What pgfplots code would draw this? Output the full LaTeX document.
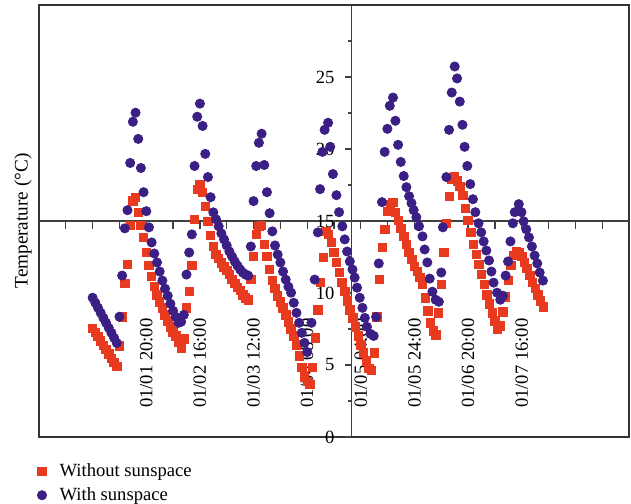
\documentclass[border=0pt]{standalone}
\usepackage{fontspec}
\setmainfont{Liberation Serif}
\usepackage{pgfplots}
\pgfplotsset{compat=1.18}

\definecolor{nosun}{RGB}{231,58,31}
\definecolor{withsun}{RGB}{59,31,132}
\newcommand{\lblfont}{\fontsize{9.3}{11}\selectfont}
\tikzset{axln/.style={black!75, line width=0.6pt}}

\begin{document}
\begin{tikzpicture}
\begin{axis}[
    name=ax,
    scale only axis,
    width=295pt, height=216pt,
    xmin=-20, xmax=200,
    ymin=0, ymax=30,
    xtick=\empty, ytick=\empty,
    clip=false,
    axis line style={black!80, line width=0.6pt},
    legend cell align=left,
    legend image code/.code={\draw[mark repeat=2,mark phase=2,#1] plot coordinates {(0pt,0pt) (3pt,0pt) (6pt,0pt)};},
    legend style={at={(rel axis cs:0,0)}, anchor=north west, xshift=-4pt, yshift=-10pt,
        draw=none, fill=none, font=\lblfont, row sep=2pt, column sep=5.5pt,
        nodes={inner sep=1pt}},
]

% without sunspace
\addplot[only marks, mark=square*, mark size=2.1pt, color=nosun] coordinates {
(0,7.56)(1,7.27)(2,6.97)(3,6.67)(4,6.37)(5,6.07)(6,5.77)(7,5.47)(8,5.18)(9,4.90)
(10,6.32)(11,8.35)(12,10.65)(13,11.98)(14,14.70)(15,16.40)(16,16.65)(17,15.60)(18,14.70)(19,13.86)
(20,12.80)(21,11.90)(22,11.14)(23,10.44)(24,9.88)(25,9.39)(26,8.97)(27,8.48)(28,8.07)(29,7.65)
(30,7.30)(31,7.02)(32,6.60)(33,6.18)(34,6.80)(35,8.97)(36,10.10)(37,11.90)(38,15.10)(39,17.20)
(40,17.56)(41,17.00)(42,16.00)(43,14.98)(44,14.00)(45,13.23)(46,12.67)(47,12.40)(48,12.10)(49,11.80)
(50,11.56)(51,11.28)(52,10.93)(53,10.65)(54,10.37)(55,10.16)(56,9.88)(57,9.67)(58,9.53)(59,10.93)
(60,12.53)(61,14.07)(62,14.63)(63,14.70)(64,13.37)(65,12.53)(66,11.63)(67,10.86)(68,10.30)(69,9.81)
(70,9.39)(71,8.97)(72,8.48)(73,8.00)(74,7.51)(75,7.02)(76,6.39)(77,5.62)(78,4.85)(79,4.16)
(80,3.88)(81,3.67)(82,4.85)(83,6.88)(84,8.83)(85,10.72)(86,12.47)(87,14.28)(88,14.07)(89,13.51)
(90,12.81)(91,12.12)(92,11.42)(93,10.72)(94,10.09)(95,9.46)(96,8.83)(97,8.27)(98,7.65)(99,7.02)
(100,6.39)(101,5.83)(102,5.27)(103,4.78)(104,4.64)(105,5.83)(106,8.35)(107,10.93)(108,13.16)(109,14.42)
(110,15.68)(111,16.17)(112,16.30)(113,15.60)(114,15.05)(115,14.49)(116,13.93)(117,13.37)(118,12.81)(119,12.33)
(120,11.84)(121,11.49)(122,11.07)(123,10.58)(124,9.67)(125,8.76)(126,7.93)(127,7.37)(128,7.09)(129,8.62)
(130,10.58)(131,12.81)(132,14.84)(133,16.72)(134,17.90)(135,18.05)(136,17.77)(137,17.42)(138,16.79)(139,15.89)
(140,15.05)(141,14.21)(142,13.37)(143,12.67)(144,11.98)(145,11.28)(146,10.58)(147,9.88)(148,9.25)(149,8.62)
(150,8.07)(151,7.51)(152,7.72)(153,8.69)(154,9.74)(155,10.86)(156,11.91)(157,12.60)(158,12.88)(159,12.81)
(160,12.53)(161,12.12)(162,11.70)(163,11.21)(164,10.72)(165,10.30)(166,9.88)(167,9.46)(168,9.04)
};
\addlegendentry{Without sunspace}

% with sunspace
\addplot[only marks, mark=*, mark size=2.3pt, color=withsun] coordinates {
(0,9.67)(1,9.32)(2,8.97)(3,8.62)(4,8.27)(5,7.93)(6,7.58)(7,7.23)(8,6.88)(9,6.53)
(10,8.35)(11,11.21)(12,14.49)(13,15.75)(14,19.03)(15,21.89)(16,22.52)(17,20.70)(18,18.68)(19,17.00)
(20,15.68)(21,14.56)(22,13.51)(23,12.74)(24,12.12)(25,11.49)(26,10.86)(27,10.30)(28,9.81)(29,9.25)
(30,8.76)(31,8.34)(32,7.93)(33,8.00)(34,8.48)(35,11.28)(36,12.81)(37,14.07)(38,18.82)(39,22.24)
(40,23.15)(41,21.60)(42,19.66)(43,18.05)(44,16.65)(45,15.60)(46,15.12)(47,14.63)(48,14.14)(49,13.72)
(50,13.30)(51,12.88)(52,12.53)(53,12.19)(54,11.90)(55,11.63)(56,11.42)(57,11.28)(58,11.21)(59,13.23)
(60,16.38)(61,18.82)(62,20.43)(63,21.06)(64,18.89)(65,17.00)(66,15.54)(67,14.28)(68,13.30)(69,12.67)
(70,12.12)(71,11.49)(72,10.93)(73,10.44)(74,10.02)(75,9.32)(76,8.62)(77,7.93)(78,7.23)(79,6.53)
(80,5.90)(81.6,7.93)(82.8,10.93)(84.0,14.21)(84.8,17.21)(85.7,19.80)(86.5,21.33)(87.8,21.82)(88.6,20.15)(89.6,18.26)
(90.9,16.79)(91.9,15.61)(93.1,14.63)(94.0,13.72)(94.9,12.88)(95.9,12.19)(96.9,11.63)(97.7,11.07)(98.6,10.37)(99.6,9.67)
(100.6,8.97)(101.5,8.27)(102.3,7.65)(103.6,7.16)(104.8,7.02)(105.7,8.34)(106.7,12.05)(107.9,16.31)(108.9,19.80)(109.9,21.40)
(110.8,23.00)(112.0,23.57)(112.9,21.96)(113.9,20.29)(114.9,19.10)(116.0,18.12)(117.0,17.35)(118.0,16.72)(118.9,16.24)(119.7,15.75)
(120.7,15.26)(121.7,14.63)(123.0,13.93)(123.8,13.02)(124.8,12.12)(125.7,11.00)(126.7,10.09)(127.9,9.53)(129.1,9.39)(130.0,11.42)
(130.6,14.56)(131.9,18.05)(132.9,21.33)(133.9,23.92)(135.0,25.73)(135.9,24.90)(136.9,23.29)(137.9,21.68)(138.7,20.15)(139.7,18.82)
(140.8,17.56)(141.8,16.51)(142.7,15.61)(143.9,14.84)(144.9,14.21)(145.8,13.58)(146.8,12.95)(147.8,12.26)(148.7,11.49)(149.5,10.72)
(150.8,10.02)(152.0,9.53)(153.0,9.81)(154.0,11.21)(154.9,12.19)(155.8,13.58)(156.7,14.84)(157.4,15.61)(158.9,16.17)(159.9,15.61)
(160.7,14.98)(161.7,14.42)(162.7,13.86)(163.8,13.23)(164.8,12.60)(165.8,12.05)(166.7,11.42)(167.9,10.86)
};
\addlegendentry{With sunspace}

% axes crossing inside the frame
\draw[axln] (axis cs:-20,15) -- (axis cs:200,15);
\draw[axln] (axis cs:96.5,0) -- (axis cs:96.5,30);
\pgfplotsinvokeforeach{-10,0,...,190}{\draw[axln] (axis cs:#1,15) -- ([yshift=-4pt]axis cs:#1,15);}
\pgfplotsinvokeforeach{0,5,...,25}{
  \draw[axln] (axis cs:96.5,#1) -- ([xshift=-3.3pt]axis cs:96.5,#1);
  \node[anchor=east, inner sep=0pt, font=\lblfont] at ([xshift=-8.3pt]axis cs:96.5,#1) {#1};
}
\pgfplotsinvokeforeach{2.5,7.5,...,27.5}{\draw[axln] (axis cs:96.5,#1) -- ([xshift=-1.7pt]axis cs:96.5,#1);}

% time labels
\node[rotate=90, anchor=east, inner sep=0pt, font=\lblfont] at ([yshift=-48.5pt]axis cs:20,15) {01/01 20:00};
\node[rotate=90, anchor=east, inner sep=0pt, font=\lblfont] at ([yshift=-48.5pt]axis cs:40,15) {01/02 16:00};
\node[rotate=90, anchor=east, inner sep=0pt, font=\lblfont] at ([yshift=-48.5pt]axis cs:60,15) {01/03 12:00};
\node[rotate=90, anchor=east, inner sep=0pt, font=\lblfont] at ([yshift=-48.5pt]axis cs:80,15) {01/04 08:00};
\node[rotate=90, anchor=east, inner sep=0pt, font=\lblfont] at ([yshift=-48.5pt]axis cs:100,15) {01/05 04:00};
\node[rotate=90, anchor=east, inner sep=0pt, font=\lblfont] at ([yshift=-48.5pt]axis cs:120,15) {01/05 24:00};
\node[rotate=90, anchor=east, inner sep=0pt, font=\lblfont] at ([yshift=-48.5pt]axis cs:140,15) {01/06 20:00};
\node[rotate=90, anchor=east, inner sep=0pt, font=\lblfont] at ([yshift=-48.5pt]axis cs:160,15) {01/07 16:00};

\node[rotate=90, font=\fontsize{9.6}{11}\selectfont] at ([xshift=-8pt]rel axis cs:0,0.5) {Temperature (°C)};
\end{axis}
\pgfresetboundingbox
\path[use as bounding box] ([xshift=-19.5pt,yshift=-33.5pt]ax.south west) rectangle ([xshift=1pt,yshift=2.5pt]ax.north east);
\end{tikzpicture}
\end{document}
